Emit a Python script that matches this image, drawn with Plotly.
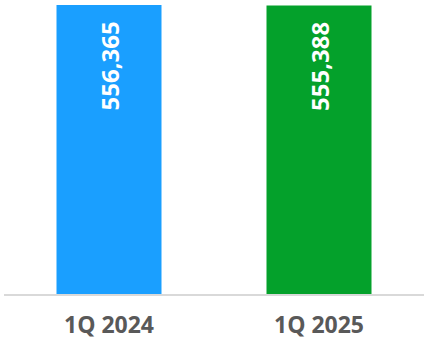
import plotly.graph_objects as go

categories = ["1Q 2024", "1Q 2025"]
values = [556365, 555388]
colors = ["#1A9FFF", "#04A12B"]
labels = [f"{v:,}" for v in values]

fig = go.Figure()
fig.add_trace(go.Bar(
    x=categories, y=values, marker=dict(color=colors, line=dict(width=0)),
    width=0.5, hoverinfo="skip",
))
for c, v, t in zip(categories, values, labels):
    fig.add_annotation(
        x=c, y=v, xref="x", yref="y", text=f"<b>{t}</b>", showarrow=False,
        textangle=-90, yanchor="top", yshift=-15,
        font=dict(family="Open Sans", size=24, color="white"),
    )

fig.update_layout(
    width=424, height=340, margin=dict(l=4, r=0, t=5, b=44),
    plot_bgcolor="white", paper_bgcolor="white", showlegend=False,
    xaxis=dict(range=[-0.5, 1.5], showgrid=False, zeroline=False,
               showline=True, linecolor="#d9d9d9", linewidth=2,
               ticks="", ticklabelstandoff=9,
               tickfont=dict(family="Open Sans", size=23, color="#595959"),
               tickprefix="<b>", ticksuffix="</b>"),
    yaxis=dict(range=[0, 556365], visible=False, showgrid=False, zeroline=False),
)
fig.write_html("out.html")
